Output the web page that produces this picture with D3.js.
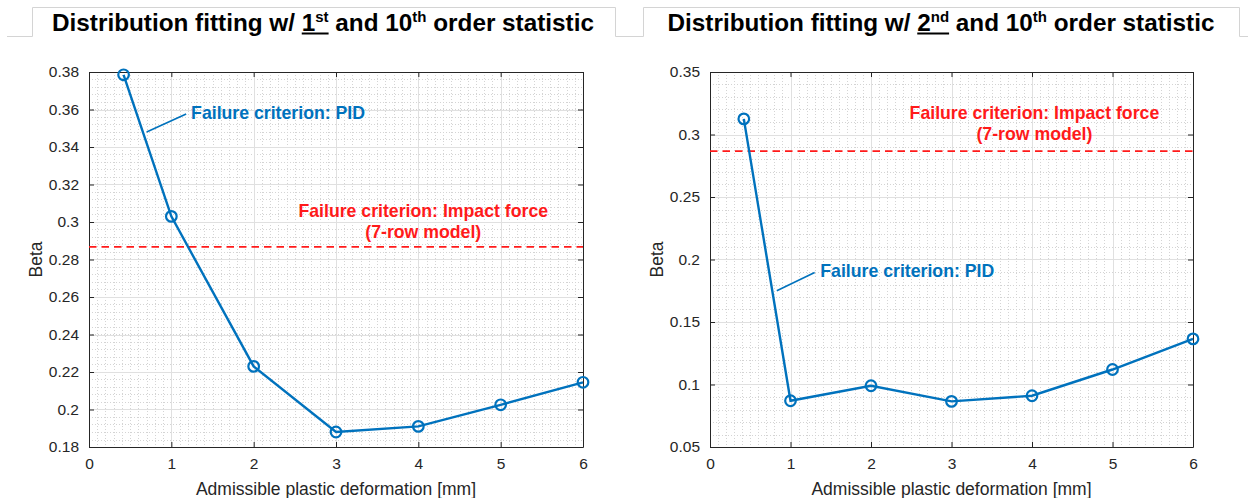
<!DOCTYPE html>
<html>
<head>
<meta charset="utf-8">
<script src="https://cdn.jsdelivr.net/npm/d3@7"></script>
<style>
  body { margin: 0; background: #fff; }
  svg { display: block; font-family: "Liberation Sans", Arial, sans-serif; }
</style>
</head>
<body>
<svg id="chart" width="1248" height="498"></svg>
<script>
// values
var xDeform = [0.42, 1, 2, 3, 4, 5, 6];
var betaOrder1 = [0.3785, 0.303, 0.223, 0.188, 0.191, 0.2025, 0.2145];
var betaOrder2 = [0.3125, 0.087, 0.099, 0.0865, 0.091, 0.112, 0.1365];
var betaImpact = 0.2867;
var xTicks = [0, 1, 2, 3, 4, 5, 6];
var yTicks1 = [0.18, 0.2, 0.22, 0.24, 0.26, 0.28, 0.3, 0.32, 0.34, 0.36, 0.38];
var yTicks2 = [0.05, 0.1, 0.15, 0.2, 0.25, 0.3, 0.35];

var blue = "#0072bd", red = "#ff1a1a", axisCol = "#262626";

var svg = d3.select("#chart");

// tab outline behind the titles
svg.append("path")
    .attr("d", "M7,36.5H32.5V7.5H615.5V36.5H643.5V7.5H1239.5V36.5H1248")
    .attr("fill", "none")
    .attr("stroke", "#d4d4d4")
    .attr("stroke-width", 1);

function drawTitle(cx, ord, ordSup) {
    var t = svg.append("text")
        .attr("x", cx).attr("y", 31)
        .attr("text-anchor", "middle")
        .attr("font-size", 24.3).attr("font-weight", "bold")
        .attr("fill", "#000");
    t.append("tspan").text("Distribution fitting w/ ");
    t.append("tspan").text(ord);
    t.append("tspan").attr("dy", -9).attr("font-size", 15).text(ordSup);
    t.append("tspan").attr("dy", 9).text(" and 10");
    t.append("tspan").attr("dy", -9).attr("font-size", 15).text("th");
    t.append("tspan").attr("dy", 9).text(" order statistic");

    // underline under the order number
    var node = t.node();
    var start = "Distribution fitting w/ ".length;
    var x0 = node.getStartPositionOfChar(start).x;
    var x1 = node.getEndPositionOfChar(start + ord.length + ordSup.length - 1).x;
    svg.append("line")
        .attr("x1", x0).attr("x2", x1)
        .attr("y1", 33.5).attr("y2", 33.5)
        .attr("stroke", "#000").attr("stroke-width", 2);
}

drawTitle(323, "1", "st");
drawTitle(941, "2", "nd");

function drawPanel(p) {
    var x = d3.scaleLinear().domain([0, 6]).range([p.left, p.right]);
    var y = d3.scaleLinear().domain(p.yDomain).range([p.bottom, p.top]);
    var g = svg.append("g");

    // minor grid
    var xMinor = d3.range(0, 6.0001, 0.1);
    var yStep = (p.yTicks[1] - p.yTicks[0]) / 5;
    var yMinor = d3.range(p.yDomain[0], p.yDomain[1] + 1e-9, yStep);
    g.selectAll(".xmin").data(xMinor).enter().append("line")
        .attr("x1", function(d) { return Math.round(x(d)) + 0.5; })
        .attr("x2", function(d) { return Math.round(x(d)) + 0.5; })
        .attr("y1", p.top).attr("y2", p.bottom)
        .attr("stroke", "#d4d4d4").attr("stroke-dasharray", "1,2");
    g.selectAll(".ymin").data(yMinor).enter().append("line")
        .attr("y1", function(d) { return Math.round(y(d)) + 0.5; })
        .attr("y2", function(d) { return Math.round(y(d)) + 0.5; })
        .attr("x1", p.left).attr("x2", p.right)
        .attr("stroke", "#d4d4d4").attr("stroke-dasharray", "1,2");

    // major grid
    g.selectAll(".xmaj").data(xTicks).enter().append("line")
        .attr("x1", function(d) { return Math.round(x(d)) + 0.5; })
        .attr("x2", function(d) { return Math.round(x(d)) + 0.5; })
        .attr("y1", p.top).attr("y2", p.bottom)
        .attr("stroke", "#e0e0e0");
    g.selectAll(".ymaj").data(p.yTicks).enter().append("line")
        .attr("y1", function(d) { return Math.round(y(d)) + 0.5; })
        .attr("y2", function(d) { return Math.round(y(d)) + 0.5; })
        .attr("x1", p.left).attr("x2", p.right)
        .attr("stroke", "#e0e0e0");

    // axes, ticks pointing in like matlab
    var fmt = function(d) { return String(+d.toFixed(3)); };
    var ax = [
        g.append("g").attr("transform", "translate(0," + p.bottom + ")")
            .call(d3.axisBottom(x).tickValues(xTicks).tickSizeInner(-5).tickSizeOuter(0).tickPadding(11).tickFormat(fmt)),
        g.append("g").attr("transform", "translate(0," + p.top + ")")
            .call(d3.axisTop(x).tickValues(xTicks).tickSizeInner(-5).tickSizeOuter(0).tickFormat("")),
        g.append("g").attr("transform", "translate(" + p.left + ",0)")
            .call(d3.axisLeft(y).tickValues(p.yTicks).tickSizeInner(-5).tickSizeOuter(0).tickPadding(10).tickFormat(fmt)),
        g.append("g").attr("transform", "translate(" + p.right + ",0)")
            .call(d3.axisRight(y).tickValues(p.yTicks).tickSizeInner(-5).tickSizeOuter(0).tickFormat(""))
    ];
    ax.forEach(function(a) {
        a.select(".domain").attr("stroke", axisCol);
        a.selectAll(".tick line").attr("stroke", axisCol);
        a.selectAll(".tick text").attr("fill", axisCol)
            .attr("font-size", 15.5).attr("font-family", "Liberation Sans, Arial, sans-serif");
    });

    // axis titles
    g.append("text")
        .attr("x", (p.left + p.right) / 2).attr("y", 495)
        .attr("text-anchor", "middle").attr("font-size", 17.5).attr("fill", axisCol)
        .text("Admissible plastic deformation [mm]");
    g.append("text")
        .attr("transform", "translate(" + (p.left - 47) + "," + ((p.top + p.bottom) / 2) + ") rotate(-90)")
        .attr("text-anchor", "middle").attr("font-size", 17.5).attr("fill", axisCol)
        .text("Beta");

    // impact-force reference
    g.append("line")
        .attr("x1", p.left).attr("x2", p.right)
        .attr("y1", y(betaImpact)).attr("y2", y(betaImpact))
        .attr("stroke", red).attr("stroke-width", 1.7).attr("stroke-dasharray", "7.5,5");

    // PID curve
    var pts = xDeform.map(function(d, i) { return [d, p.beta[i]]; });
    g.append("path")
        .datum(pts)
        .attr("fill", "none").attr("stroke", blue).attr("stroke-width", 2.4)
        .attr("d", d3.line().x(function(d) { return x(d[0]); }).y(function(d) { return y(d[1]); }));
    g.selectAll(".pt").data(pts).enter().append("circle")
        .attr("cx", function(d) { return x(d[0]); })
        .attr("cy", function(d) { return y(d[1]); })
        .attr("r", 5.3).attr("fill", "none").attr("stroke", blue).attr("stroke-width", 2.2);

    // annotations
    g.append("line")
        .attr("x1", x(p.pidArrow[0])).attr("y1", y(p.pidArrow[1]))
        .attr("x2", x(p.pidArrow[2])).attr("y2", y(p.pidArrow[3]))
        .attr("stroke", blue).attr("stroke-width", 1.6);
    g.append("text")
        .attr("x", x(p.pidText[0])).attr("y", y(p.pidText[1]))
        .attr("dy", "0.35em")
        .attr("font-size", 17.7).attr("font-weight", "bold").attr("fill", blue)
        .text("Failure criterion: PID");
    var rt = g.append("text")
        .attr("text-anchor", "middle")
        .attr("font-size", 17.7).attr("font-weight", "bold").attr("fill", red);
    rt.append("tspan").attr("x", x(p.impText[0])).attr("y", y(p.impText[1])).attr("dy", "0.35em")
        .text("Failure criterion: Impact force");
    rt.append("tspan").attr("x", x(p.impText[0])).attr("y", y(p.impText[2])).attr("dy", "0.35em")
        .text("(7-row model)");
}

drawPanel({
    left: 89, right: 583, top: 72, bottom: 447,
    yDomain: [0.18, 0.38], yTicks: yTicks1, beta: betaOrder1,
    pidArrow: [0.70, 0.348, 1.18, 0.3576],
    pidText: [1.24, 0.358],
    impText: [4.06, 0.3059, 0.2947]
});
drawPanel({
    left: 710, right: 1193, top: 72, bottom: 447,
    yDomain: [0.05, 0.35], yTicks: yTicks2, beta: betaOrder2,
    pidArrow: [0.83, 0.175, 1.30, 0.1896],
    pidText: [1.37, 0.191],
    impText: [4.03, 0.3172, 0.3004]
});
</script>
</body>
</html>
